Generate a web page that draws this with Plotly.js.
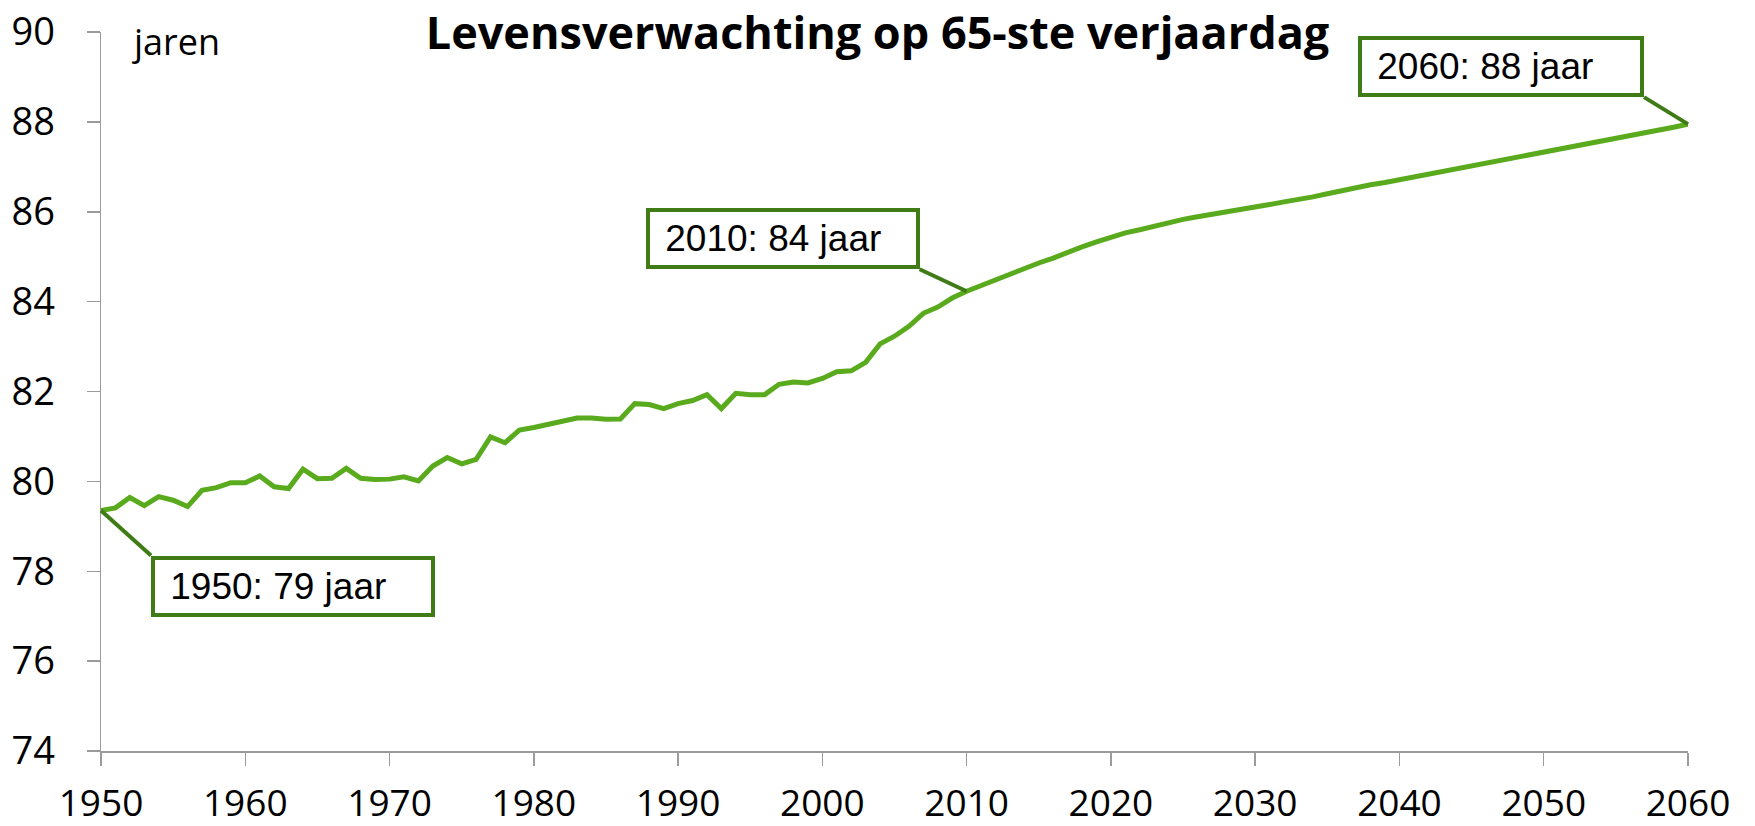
<!DOCTYPE html>
<html>
<head>
<meta charset="utf-8">
<script src="https://cdn.plot.ly/plotly-3.0.1.min.js"></script>
<style>
html,body{margin:0;padding:0;background:#fff;}
#chart{width:1755px;height:826px;}
</style>
</head>
<body>
<div id="chart"></div>
<script>
const years = [1950,1951,1952,1953,1954,1955,1956,1957,1958,1959,
1960,1961,1962,1963,1964,1965,1966,1967,1968,1969,
1970,1971,1972,1973,1974,1975,1976,1977,1978,1979,
1980,1981,1982,1983,1984,1985,1986,1987,1988,1989,
1990,1991,1992,1993,1994,1995,1996,1997,1998,1999,
2000,2001,2002,2003,2004,2005,2006,2007,2008,2009,
2010,2011,2012,2013,2014,2015,2016,2017,2018,2019,
2020,2021,2022,2023,2024,2025,2026,2027,2028,2029,
2030,2031,2032,2033,2034,2035,2036,2037,2038,2039,
2040,2041,2042,2043,2044,2045,2046,2047,2048,2049,
2050,2051,2052,2053,2054,2055,2056,2057,2058,2059,2060];

const lifeExpectancy = [79.35,79.41,79.64,79.46,79.66,79.58,79.44,79.80,79.86,79.97,
79.97,80.12,79.88,79.84,80.27,80.06,80.07,80.29,80.07,80.04,
80.05,80.10,80.01,80.34,80.53,80.39,80.49,80.99,80.86,81.14,
81.20,81.27,81.35,81.41,81.41,81.38,81.39,81.73,81.71,81.62,
81.73,81.80,81.93,81.62,81.96,81.93,81.93,82.16,82.21,82.19,
82.29,82.44,82.46,82.65,83.06,83.23,83.45,83.74,83.88,84.08,
84.23,84.36,84.49,84.62,84.75,84.86,84.97,85.10,85.22,85.33,
85.43,85.53,85.60,85.68,85.75,85.83,85.89,85.94,86.00,86.05,
86.11,86.16,86.22,86.27,86.33,86.40,86.47,86.54,86.60,86.65,
86.71,86.77,86.83,86.90,86.96,87.02,87.08,87.14,87.20,87.26,
87.32,87.38,87.44,87.50,87.56,87.63,87.69,87.76,87.82,87.88,87.95];

const xTicks = [1950,1960,1970,1980,1990,2000,2010,2020,2030,2040,2050,2060];
const yTicks = [74,76,78,80,82,84,86,88,90];

const calloutYears = [1950, 2010, 2060];
const calloutTexts = ['1950: 79 jaar', '2010: 84 jaar', '2060: 88 jaar'];

const titleText = 'Levensverwachting op 65-ste verjaardag';
const unitText = 'jaren';

const lineColor = '#59AB1D';
const boxColor = '#3F7C16';
const axisColor = '#9B9B9B';

function valueAt(yr){ return lifeExpectancy[years.indexOf(yr)]; }

const calloutStyle = [
  {ax: 50, ay: 45, xanchor: 'left', yanchor: 'top', width: 266},
  {ax: -47, ay: -22, xanchor: 'right', yanchor: 'bottom', width: 256},
  {ax: -44, ay: -27, xanchor: 'right', yanchor: 'bottom', width: 268}
];

const annotations = calloutYears.map((yr, i) => ({
  x: yr, y: valueAt(yr), xref: 'x', yref: 'y',
  text: '\u00a0' + calloutTexts[i],
  showarrow: true, arrowhead: 0, arrowwidth: 4, arrowcolor: boxColor,
  standoff: 0,
  ax: calloutStyle[i].ax, ay: calloutStyle[i].ay,
  xanchor: calloutStyle[i].xanchor, yanchor: calloutStyle[i].yanchor,
  width: calloutStyle[i].width, height: 43, align: 'left', valign: 'middle',
  bordercolor: boxColor, borderwidth: 4, borderpad: 5, bgcolor: '#ffffff',
  font: {family: 'Liberation Sans, Arial, sans-serif', size: 37, color: '#000'}
}));

annotations.push({
  xref: 'paper', yref: 'paper', x: 0.0183, y: 0.9865,
  xanchor: 'left', yanchor: 'middle', showarrow: false,
  text: unitText,
  font: {family: 'Open Sans, sans-serif', size: 36, color: '#000'}
});

const trace = {
  x: years, y: lifeExpectancy, type: 'scatter', mode: 'lines',
  line: {color: lineColor, width: 5}, hoverinfo: 'x+y'
};

const layout = {
  width: 1755, height: 826,
  margin: {l: 101, r: 67, t: 32, b: 75},
  paper_bgcolor: '#fff', plot_bgcolor: '#fff',
  showlegend: false,
  title: {
    text: '<b>' + titleText + '</b>',
    x: 0.5, xref: 'container', xanchor: 'center',
    y: 1 - 33/826, yref: 'container', yanchor: 'middle',
    font: {family: 'Open Sans, sans-serif', size: 45, color: '#000'}
  },
  xaxis: {
    range: [1950, 2060], tickmode: 'array', tickvals: xTicks, ticktext: xTicks.map(String),
    showgrid: false, zeroline: false, showline: true, linecolor: axisColor, linewidth: 1.5,
    ticks: 'outside', ticklen: 13, tickwidth: 1.5, tickcolor: axisColor,
    ticklabelstandoff: 6,
    tickfont: {family: 'Open Sans, sans-serif', size: 37, color: '#000'}
  },
  yaxis: {
    range: [74, 90], tickmode: 'array', tickvals: yTicks, ticktext: yTicks.map(String),
    showgrid: false, zeroline: false, showline: true, linecolor: axisColor, linewidth: 1.5,
    ticks: 'outside', ticklen: 13, tickwidth: 1.5, tickcolor: axisColor,
    ticklabelstandoff: 24,
    tickfont: {family: 'Open Sans, sans-serif', size: 38, color: '#000'}
  },
  annotations: annotations
};

Plotly.newPlot('chart', [trace], layout, {displayModeBar: false, staticPlot: true});
</script>
</body>
</html>
